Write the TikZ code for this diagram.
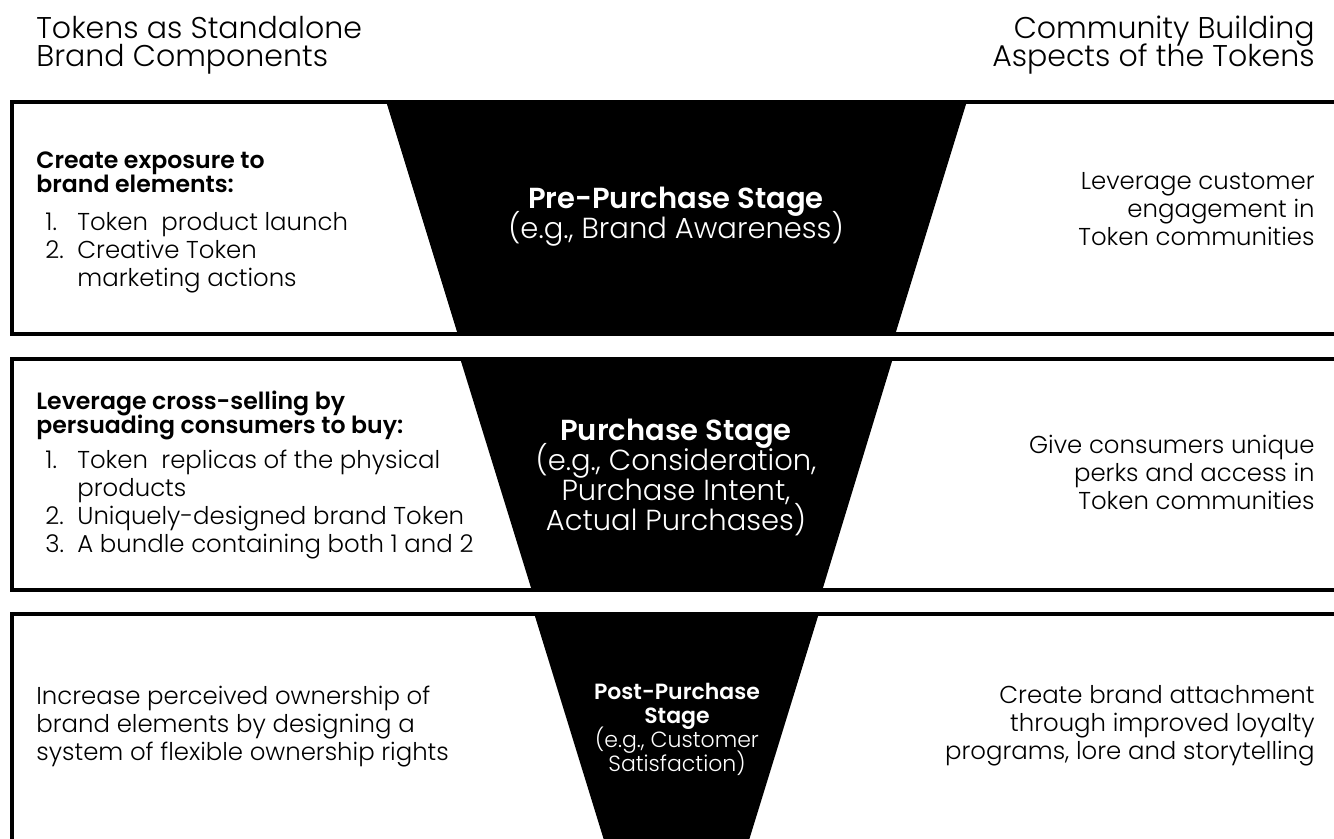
\documentclass[tikz,border=0pt]{standalone}
\usepackage{fontspec}
\setmainfont{Poppins}[UprightFont={* Light},BoldFont={* SemiBold}]
% tight leading for the multi-line nodes (not for the tabular lists)
\newcommand\tightlines{\lineskiplimit=-100pt\relax}

\tikzset{
  bandline/.style={line width=2pt,black},
  funnel/.style={fill=black},
  heading/.style={inner sep=0pt,font=\fontsize{15}{14}\selectfont\tightlines},
  boldhead/.style={inner sep=0pt,anchor=north west,align=left,font=\bfseries\fontsize{11.8}{12}\selectfont\tightlines},
  itemlist/.style={inner sep=0pt,anchor=north west,font=\fontsize{12.2}{14}\selectfont},
  note/.style={inner sep=0pt,font=\fontsize{12.2}{14}\selectfont\tightlines},
  stage/.style={inner sep=0pt,anchor=north,align=center,text=white,font=\fontsize{14.5}{15}\selectfont\tightlines},
  smallstage/.style={stage,font=\fontsize{11}{12}\selectfont\tightlines}
}

\begin{document}
\begin{tikzpicture}[x=0.5pt,y=-0.5pt]
  \useasboundingbox (0,0) rectangle (1334,839);

  % funnel pieces
  \fill[funnel] (386,101) -- (967,101) -- (895,335) -- (458,335) -- cycle;
  \fill[funnel] (460,358) -- (893,358) -- (822,591) -- (532,591) -- cycle;
  \fill[funnel] (534,613) -- (819,613) -- (746,850) -- (607,850) -- cycle;

  % band frames, open to the right
  \draw[bandline] (1340,102) -- (12,102) -- (12,334) -- (1340,334);
  \draw[bandline] (1340,359) -- (12,359) -- (12,590) -- (1340,590);
  \draw[bandline] (1340,614) -- (12,614) -- (12,850);

  % column titles
  \node[heading,anchor=north west,align=left] (standalone) at (36,15.5)
    {Tokens as Standalone\\Brand Components};
  \node[heading,anchor=north east,align=right] (community) at (1315,15.5)
    {Community Building\\Aspects of the Tokens};

  % pre-purchase band
  \node[boldhead] (prehead) at (36,151) {Create exposure to\\brand elements:};
  \node[itemlist] (prelist) at (45,211) {\begin{tabular}{@{}p{16pt}@{}l@{}}
    1. & Token\ \ product launch\\
    2. & Creative Token\\
       & marketing actions
  \end{tabular}};
  \node[stage] (prestage) at (676,187)
    {{\bfseries Pre-Purchase Stage}\\(e.g., Brand Awareness)};
  \node[note,anchor=north east,align=right] (prenote) at (1315,172.5)
    {Leverage customer\\engagement in\\Token communities};

  % purchase band
  \node[boldhead] (purhead) at (36,391)
    {Leverage cross-selling by\\persuading consumers to buy:};
  \node[itemlist] (purlist) at (45,449) {\begin{tabular}{@{}p{16pt}@{}l@{}}
    1. & Token\ \ replicas of the physical\\
       & products\\
    2. & Uniquely-designed brand Token\\
    3. & A bundle containing both 1 and 2
  \end{tabular}};
  \node[stage] (purstage) at (676,419)
    {{\bfseries Purchase Stage}\\(e.g., Consideration,\\Purchase Intent,\\Actual Purchases)};
  \node[note,anchor=north east,align=right] (purnote) at (1315,434.5)
    {Give consumers unique\\perks and access in\\Token communities};

  % post-purchase band
  \node[note,anchor=north west,align=left] (postleft) at (36,685.5)
    {Increase perceived ownership of\\brand elements by designing a\\system of flexible ownership rights};
  \node[smallstage] (poststage) at (677,683)
    {{\bfseries Post-Purchase}\\{\bfseries Stage}\\(e.g., Customer\\Satisfaction)};
  \node[note,anchor=north east,align=right] (postnote) at (1315,685.5)
    {Create brand attachment\\through improved loyalty\\programs, lore and storytelling};
\end{tikzpicture}
\end{document}
